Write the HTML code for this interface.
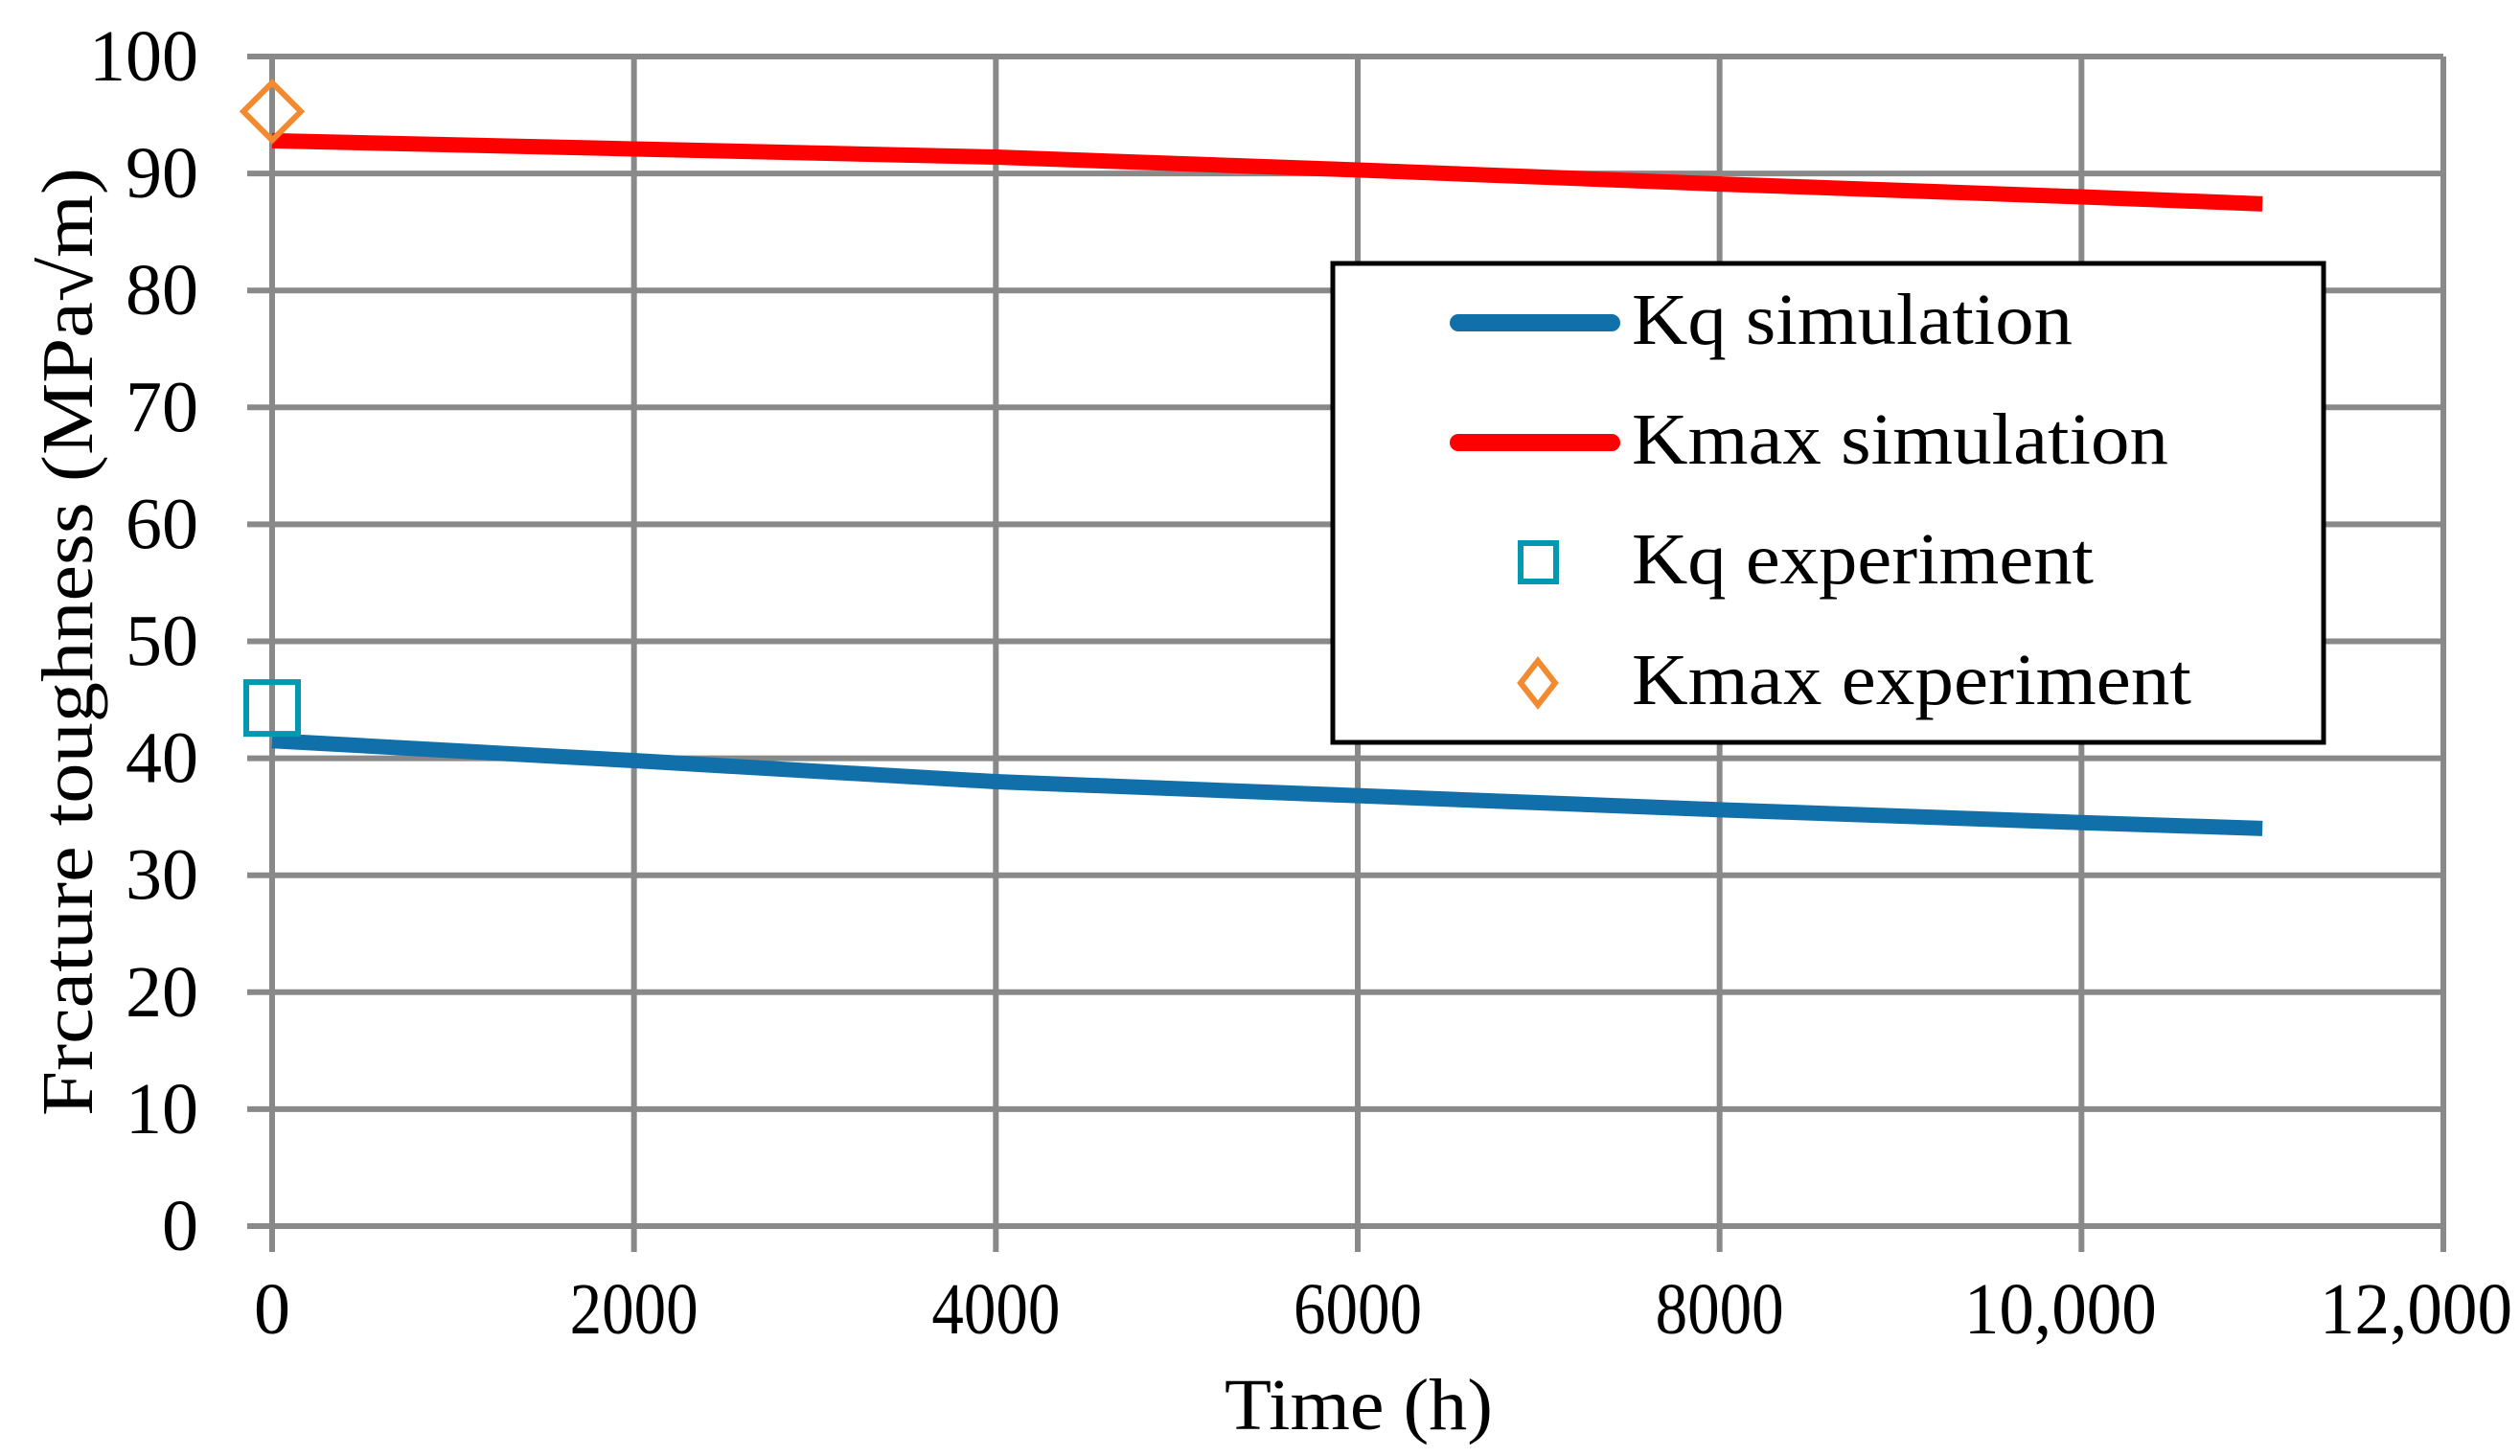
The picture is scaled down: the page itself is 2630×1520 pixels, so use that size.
<!DOCTYPE html>
<html><head><meta charset="utf-8"><style>
html,body{margin:0;padding:0;background:#fff;}
svg{display:block;}
text{font-family:"Liberation Serif",serif;fill:#000;}
</style></head><body>
<svg id="chart" width="2630" height="1520" viewBox="0 0 2630 1520" xmlns="http://www.w3.org/2000/svg">
<g id="grid"></g>
<g id="series"></g>
<g id="ticks"></g>
<text x="1418" y="1492" font-size="76" text-anchor="middle" textLength="280" lengthAdjust="spacingAndGlyphs">Time (h)</text>
<text x="0" y="0" font-size="76" text-anchor="middle" textLength="990" lengthAdjust="spacingAndGlyphs" transform="translate(96,670) rotate(-90)">Frcature toughness (MPa√m)</text>
<g>
  <rect x="1391" y="275" width="1034" height="500" fill="#fff" stroke="#000" stroke-width="5"/>
  <g>
    <line x1="1522" y1="337" x2="1682" y2="337" stroke="#1170aa" stroke-width="18" stroke-linecap="round"/>
    <text x="1703" y="359" font-size="76" textLength="460" lengthAdjust="spacingAndGlyphs">Kq simulation</text>
  </g>
  <g>
    <line x1="1522" y1="462" x2="1682" y2="462" stroke="#ff0000" stroke-width="18" stroke-linecap="round"/>
    <text x="1703" y="484" font-size="76" textLength="560" lengthAdjust="spacingAndGlyphs">Kmax simulation</text>
  </g>
  <g>
    <rect x="1587" y="567" width="37" height="40" fill="none" stroke="#0099b0" stroke-width="6"/>
    <text x="1703" y="609" font-size="76" textLength="482" lengthAdjust="spacingAndGlyphs">Kq experiment</text>
  </g>
  <g>
    <polygon points="1605,690 1623,713 1605,736 1587,713" fill="none" stroke="#f28a30" stroke-width="6"/>
    <text x="1703" y="735" font-size="76" textLength="584" lengthAdjust="spacingAndGlyphs">Kmax experiment</text>
  </g>
</g>
</svg>
<script>
const xTicks = [0, 2000, 4000, 6000, 8000, 10000, 12000];
const xTickLabels = ["0", "2000", "4000", "6000", "8000", "10,000", "12,000"];
const yTicks = [0, 10, 20, 30, 40, 50, 60, 70, 80, 90, 100];
const simTimes = [0, 2000, 4000, 6000, 8000, 10000, 11000];
const kqSim = [41.5, 39.8, 38.0, 36.8, 35.6, 34.5, 34.0];
const kmaxSim = [92.8, 92.1, 91.4, 90.3, 89.1, 88.0, 87.4];
const expTimes = [0];
const kqExp = [44.3];
const kmaxExp = [95.3];

const X0 = 284, X1 = 2550, Y0 = 1280, Y1 = 59;
const xs = v => X0 + (v - 0) / 12000 * (X1 - X0);
const ys = v => Y0 - (v - 0) / 100 * (Y0 - Y1);
const NS = "http://www.w3.org/2000/svg";
function mk(tag, attrs, parent) {
  const e = document.createElementNS(NS, tag);
  for (const k in attrs) e.setAttribute(k, attrs[k]);
  parent.appendChild(e);
  return e;
}
const grid = document.getElementById('grid');
const ticks = document.getElementById('ticks');
const series = document.getElementById('series');

yTicks.forEach(v => {
  const l = mk('line', {x1: X0 - 26, x2: X1, y1: ys(v), y2: ys(v), stroke: '#898989', 'stroke-width': 6}, grid);
  
  
  const t = mk('text', {x: 207, y: ys(v) + 25, 'font-size': 76, 'text-anchor': 'end'}, ticks);
  t.textContent = String(v);
  
  
});
xTicks.forEach((v, i) => {
  const l = mk('line', {x1: xs(v), x2: xs(v), y1: Y1, y2: Y0 + 27, stroke: '#898989', 'stroke-width': 6}, grid);
  
  
  const label = xTickLabels[i];
  const w = label.length * 33.5;
  let cx = xs(v);
  if (label.indexOf(',') >= 0) cx -= 22;
  cx = Math.min(cx, 2622 - w / 2);
  const attrs = {x: cx, y: 1392, 'font-size': 76, 'text-anchor': 'middle'};
  if (label.length > 1) { attrs.textLength = w; attrs.lengthAdjust = 'spacingAndGlyphs'; }
  const t = mk('text', attrs, ticks);
  t.textContent = label;
  
  
});

function line(vals, color, name) {
  const pts = simTimes.map((t, i) => xs(t) + ',' + ys(vals[i])).join(' ');
  const p = mk('polyline', {points: pts, fill: 'none', stroke: color, 'stroke-width': 16, 'stroke-linejoin': 'round'}, series);
  
  
}
line(kqSim, '#1170aa', 'kq-simulation-line');
line(kmaxSim, '#ff0000', 'kmax-simulation-line');

expTimes.forEach((t, i) => {
  const cx = xs(t), cy = ys(kqExp[i]);
  const r = mk('rect', {x: cx - 27, y: cy - 27, width: 54, height: 54, fill: 'none', stroke: '#0099b0', 'stroke-width': 6}, series);
  
  
  const dx = xs(t), dy = ys(kmaxExp[i]);
  const d = mk('polygon', {points: `${dx},${dy-30} ${dx+30},${dy} ${dx},${dy+30} ${dx-30},${dy}`, fill: 'none', stroke: '#f28a30', 'stroke-width': 6}, series);
  
  
});
</script>
</body></html>
